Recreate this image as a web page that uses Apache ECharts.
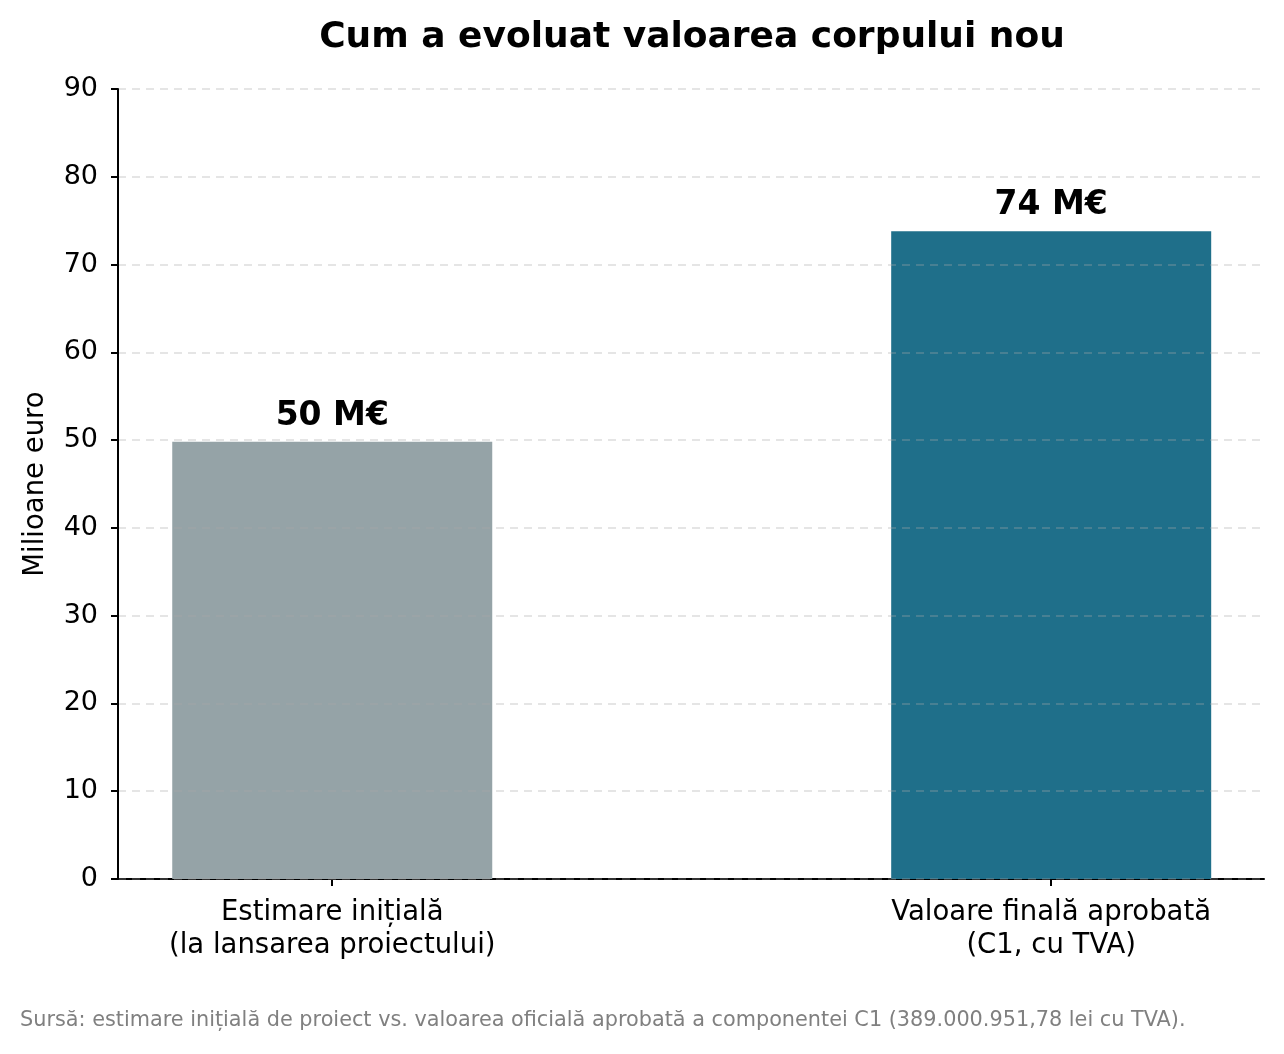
<!DOCTYPE html>
<html>
<head>
<meta charset="utf-8">
<script src="https://cdn.jsdelivr.net/npm/echarts@6/dist/echarts.min.js"></script>
<style>
    html, body { margin: 0; padding: 0; background: #fff; }
    #chart { width: 1284px; height: 1054px; }
</style>
</head>
<body>
<div id="chart"></div>
<script>
// date din grafic
var categories = ['Estimare inițială\n(la lansarea proiectului)', 'Valoare finală aprobată\n(C1, cu TVA)'];
var positions = [0, 1];
var values = [49.8, 73.8];
var valueLabels = ['50 M€', '74 M€'];
var barColors = ['#95a3a7', '#1f6f8a'];

var fontFamily = 'DejaVu Sans';

var barData = [];
for (var i = 0; i < values.length; i++) {
    barData.push({
        value: [positions[i], values[i]],
        itemStyle: { color: barColors[i] },
        label: { formatter: valueLabels[i] }
    });
}

var chart = echarts.init(document.getElementById('chart'));

var option = {
    animation: false,
    backgroundColor: '#fff',
    textStyle: { fontFamily: fontFamily },
    title: {
        text: 'Cum a evoluat valoarea corpului nou',
        left: 687,
        textAlign: 'center',
        top: 15,
        textStyle: { fontSize: 36, fontWeight: 'bold', color: '#000', fontFamily: fontFamily }
    },
    grid: { left: 118, right: 20, top: 89, bottom: 175, containLabel: false },
    xAxis: {
        type: 'value',
        min: -0.298,
        max: 1.296,
        axisLine: { show: true, onZero: false, lineStyle: { color: '#000', width: 2 } },
        axisTick: { show: true, customValues: positions, length: 7, lineStyle: { color: '#000', width: 2 } },
        axisLabel: {
            customValues: positions,
            margin: 17,
            fontSize: 27.5,
            lineHeight: 33,
            color: '#000',
            fontFamily: fontFamily,
            formatter: function (v) {
                return categories[Math.round(v)];
            }
        },
        splitLine: { show: false }
    },
    yAxis: {
        type: 'value',
        min: 0,
        max: 90,
        interval: 10,
        z: 3,
        name: 'Milioane euro',
        nameLocation: 'middle',
        nameRotate: 90,
        nameGap: 68,
        nameTextStyle: { fontSize: 27.5, color: '#000', fontFamily: fontFamily },
        axisLine: { show: true, onZero: false, lineStyle: { color: '#000', width: 2 } },
        axisTick: { show: true, length: 7, lineStyle: { color: '#000', width: 2 } },
        axisLabel: { fontSize: 27, color: '#000', margin: 20, padding: [4, 0, 0, 0], fontFamily: fontFamily },
        splitLine: {
            show: true,
            lineStyle: { color: 'rgba(170,170,170,0.3)', type: [8, 6], width: 2 }
        }
    },
    series: [{
        type: 'bar',
        barWidth: 320,
        data: barData,
        label: {
            show: true,
            position: 'top',
            distance: 9,
            fontSize: 33,
            fontWeight: 'bold',
            color: '#000',
            fontFamily: fontFamily
        }
    }],
    graphic: [{
        type: 'text',
        left: 20,
        top: 1010,
        style: {
            text: 'Sursă: estimare inițială de proiect vs. valoarea oficială aprobată a componentei C1 (389.000.951,78 lei cu TVA).',
            fontSize: 20.8,
            fill: '#808080',
            fontFamily: fontFamily
        }
    }]
};

chart.setOption(option);
</script>
</body>
</html>
